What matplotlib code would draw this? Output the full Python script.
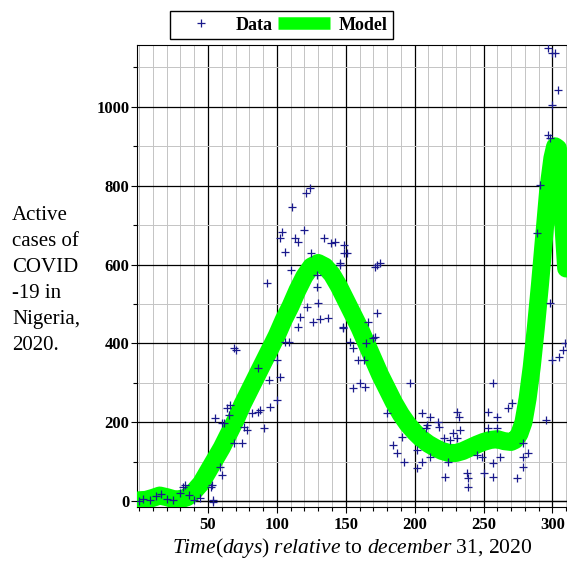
import numpy as np
import matplotlib.pyplot as plt
from matplotlib.ticker import MultipleLocator
from matplotlib.lines import Line2D

plt.rcParams['font.family'] = ['Liberation Serif', 'DejaVu Serif']
plt.rcParams['mathtext.fontset'] = 'custom'
plt.rcParams['mathtext.rm'] = 'Liberation Serif'
plt.rcParams['mathtext.it'] = 'Liberation Serif:italic'

data_day = [0, 3, 8, 12, 16, 20, 25, 30, 32, 33,
            36, 40, 44, 52, 53, 54, 54, 59, 60, 55,
            60, 62, 64, 65, 66, 69, 69, 70, 75, 76,
            78, 82, 86, 86, 88, 91, 93, 94, 95, 100,
            100, 102, 102, 104, 106, 106, 109, 110, 111, 113,
            115, 115, 117, 120, 121, 122, 124, 125, 126, 129,
            129, 130, 131, 134, 137, 139, 142, 146, 146, 148,
            148, 149, 149, 151, 153, 155, 155, 159, 160, 163,
            164, 165, 166, 170, 171, 171, 173, 173, 175, 180,
            184, 187, 191, 192, 197, 202, 202, 205, 205, 208,
            209, 211, 211, 217, 218, 221, 222, 224, 226, 228,
            231, 231, 232, 233, 238, 239, 239, 245, 249, 250,
            253, 253, 257, 257, 257, 260, 260, 262, 268, 271,
            274, 279, 279, 279, 282, 289, 291, 295, 297, 297,
            298, 298, 300, 300, 300, 302, 304, 305, 308, 309]
data_cases = [0, 5, 2, 12, 18, 6, 3, 20, 36, 41,
              15, 3, 8, 36, 41, 3, -3, 86, 66, 211,
              198, 198, 236, 218, 244, 147, 388, 383, 147, 188,
              180, 223, 338, 226, 231, 185, 553, 307, 239, 358,
              256, 315, 667, 683, 632, 403, 404, 586, 746, 667,
              657, 442, 467, 688, 782, 493, 794, 629, 454, 574,
              544, 502, 461, 667, 464, 655, 657, 599, 604, 442,
              439, 650, 629, 629, 404, 388, 287, 358, 299, 358,
              289, 400, 455, 413, 416, 594, 477, 599, 604, 223,
              142, 122, 163, 99, 299, 129, 84, 99, 223, 185,
              193, 213, 112, 200, 188, 160, 61, 99, 155, 173,
              226, 160, 213, 180, 71, 58, 36, 117, 112, 71,
              226, 185, 61, 96, 299, 213, 185, 112, 236, 249,
              58, 86, 112, 147, 122, 680, 802, 205, 929, 1150,
              921, 503, 1005, 358, 1137, 1137, 1043, 365, 383, 401]

# fitted model curve, 10 per row
model_day = [0, 5, 10, 15, 20, 25, 30, 35, 40, 45,
             50, 55, 60, 65, 70, 75, 80, 85, 90, 95,
             100, 105, 110, 115, 120, 125, 130, 135, 140, 145,
             150, 155, 160, 165, 170, 175, 180, 185, 190, 195,
             200, 205, 210, 215, 220, 225, 230, 235, 240, 245,
             250, 255, 260, 265, 270, 273, 276, 279, 282, 285,
             288, 291, 294, 297, 300, 302, 304, 306, 308, 310]
model_cases = [2, 3, 8, 14, 10, 5, 4, 10, 25, 45,
               75, 105, 135, 170, 205, 245, 280, 315, 350, 385,
               420, 460, 495, 535, 570, 595, 604, 595, 575, 545,
               510, 475, 440, 400, 360, 320, 285, 250, 220, 195,
               175, 158, 145, 135, 127, 122, 122, 127, 135, 143,
               150, 155, 157, 152, 150, 155, 170, 200, 260, 340,
               440, 550, 670, 790, 870, 900, 895, 820, 700, 590]

xticks = [50, 100, 150, 200, 250, 300]
yticks = [0, 200, 400, 600, 800, 1000]

fig = plt.figure(figsize=(5.67, 5.61), dpi=100)
ax = fig.add_axes([0.2416, 0.0963, 0.7584, 0.8235])

ax.plot(model_day, model_cases, color='#00ff00', lw=13, solid_capstyle='round',
        solid_joinstyle='round', zorder=3)
ax.plot(data_day, data_cases, '+', color='#1a1a8c', ms=6, mew=0.9, zorder=4)

ax.set_xlim(-1.5, 310.6)
ax.set_ylim(-15, 1157)

ax.set_xticks(xticks)
ax.set_yticks(yticks)
ax.xaxis.set_minor_locator(MultipleLocator(10))
ax.yaxis.set_minor_locator(MultipleLocator(100))
ax.grid(which='major', color='black', lw=0.9, zorder=1)
ax.grid(which='minor', color='#c4c4c4', lw=0.7, zorder=0)
ax.axhline(0, color='black', lw=0.9, zorder=1)
ax.set_axisbelow(True)

ax.tick_params(which='both', direction='out', length=4, width=0.8,
               labelsize=12)
ax.tick_params(axis='y', pad=1.5)
ax.tick_params(axis='x', pad=3)
ax.tick_params(which='minor', length=3)
for lab in ax.get_xticklabels() + ax.get_yticklabels():
    lab.set_fontweight('bold')
ax.spines['right'].set_visible(False)

h_data = Line2D([], [], ls='none', marker='+', color='#1a1a8c', ms=6, mew=0.9)
h_model = Line2D([], [], color='#00ff00', lw=9, solid_capstyle='butt')
fig.legend([h_data, h_model], ['Data', 'Model'], loc='center', ncol=2,
           bbox_to_anchor=(0.496, 0.955), frameon=True, fancybox=False,
           edgecolor='black', framealpha=1, handlelength=2.9,
           handletextpad=0.45, columnspacing=0.3, borderpad=0.3,
           prop={'weight': 'bold', 'size': 13})

ax.set_xlabel(r'$\mathit{Time}(\mathit{days})\ \mathit{relative}$ to '
              r'$\mathit{december}$ 31, 2020', fontsize=15.5, labelpad=2.5)

fig.text(0.021, 0.50, 'Active\ncases of\nCOVID\n-19 in\nNigeria,\n2020.',
         ha='left', va='center', fontsize=15, linespacing=1.5)

fig.savefig('out.png', dpi=100)
